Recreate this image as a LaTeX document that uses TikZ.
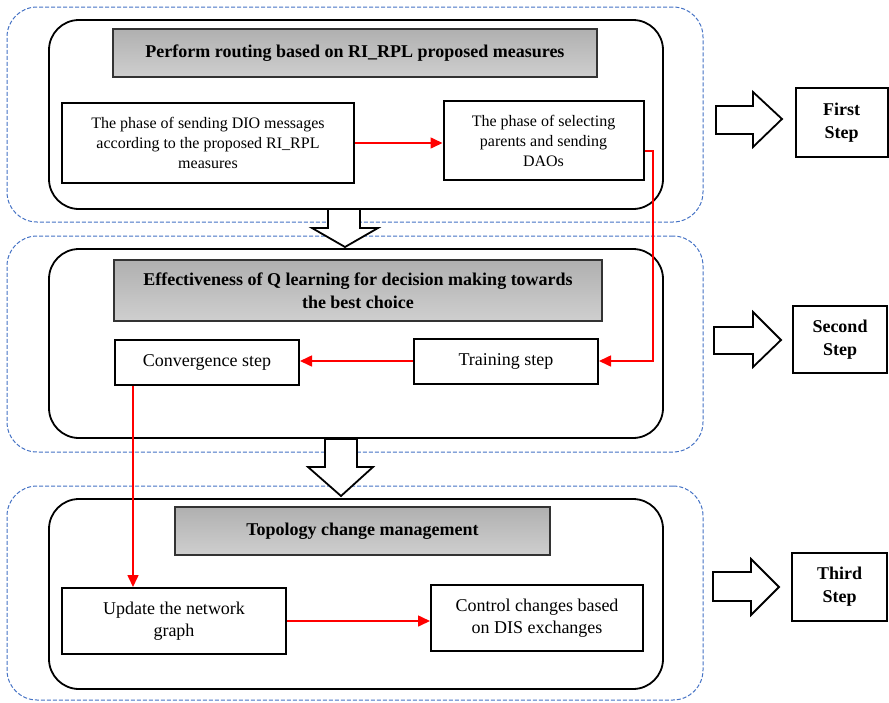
\documentclass[tikz,border=0pt]{standalone}
\usepackage{fontspec}
\setmainfont{Liberation Serif}
\usetikzlibrary{arrows.meta}
\definecolor{dashblue}{RGB}{68,114,196}
\begin{document}
\begin{tikzpicture}[x=1pt,y=-1pt,
  outerbox/.style={draw=dashblue, line width=1pt, dash pattern=on 4pt off 2pt, rounded corners=30pt, inner sep=0pt},
  innerbox/.style={draw=black, line width=1.8pt, rounded corners=30pt, inner sep=0pt, fill=white},
  hdr/.style={draw=black!80, line width=1.2pt, top color=black!31, bottom color=black!19, inner sep=0pt, align=center, font=\fontsize{18}{23}\selectfont\bfseries},
  txtbox/.style={draw=black, line width=2pt, fill=white, inner sep=0pt, align=center, font=\fontsize{18}{22}\selectfont},
  smallbox/.style={txtbox, font=\fontsize{16}{20}\selectfont},
  stepbox/.style={draw=black, line width=2pt, fill=white, inner sep=0pt, align=center, font=\fontsize{18}{23}\selectfont\bfseries},
  redarrow/.style={draw=red, line width=1.6pt, -{Triangle[length=12pt,width=11pt]}},
  blockarrow/.style={draw=black, line width=1.8pt, fill=white, line join=miter}
]
\useasboundingbox (0,0) rectangle (889,702);

% outer dashed frames
\node[outerbox, minimum width=696pt, minimum height=215pt] (o1) at (355,114.5) {};
\node[outerbox, minimum width=696pt, minimum height=216pt] (o2) at (355,344) {};
\node[outerbox, minimum width=696pt, minimum height=214pt] (o3) at (355,593) {};

% inner rounded frames
\node[innerbox, minimum width=614pt, minimum height=189pt] (i1) at (356,114.5) {};
\node[innerbox, minimum width=614pt, minimum height=189pt] (i2) at (356,343.5) {};
\node[innerbox, minimum width=614pt, minimum height=190pt] (i3) at (356,594) {};

% down block arrows
\draw[blockarrow] (328,209) -- (360,209) -- (360,228) -- (378,228) -- (345,247) -- (312,228) -- (328,228) -- cycle;
\draw[blockarrow] (325,439) -- (357,439) -- (357,467) -- (373,467) -- (341,496) -- (308,467) -- (325,467) -- cycle;

% headers
\node[hdr, minimum width=484pt, minimum height=48pt] (h1) at (355,53) {Perform routing based on RI\_RPL proposed measures};
\node[hdr, minimum width=488pt, minimum height=61pt] (h2) at (358,290.5) {Effectiveness of Q learning for decision making towards\\the best choice};
\node[hdr, minimum width=375pt, minimum height=48pt] (h3) at (362.5,531) {Topology change management};

% process boxes
\node[smallbox, minimum width=292pt, minimum height=80pt] (dio) at (208,143) {The phase of sending DIO messages\\according to the proposed RI\_RPL\\measures};
\node[smallbox, minimum width=200pt, minimum height=79pt] (par) at (543.5,140.5) {The phase of selecting\\parents and sending\\DAOs};
\node[txtbox, minimum width=184pt, minimum height=45pt] (conv) at (207,362.5) {Convergence step};
\node[txtbox, minimum width=184pt, minimum height=45pt] (train) at (506,361) {Training step};
\node[txtbox, minimum width=224pt, minimum height=66pt] (upd) at (174,621) {Update the network\\graph};
\node[txtbox, minimum width=212pt, minimum height=66pt] (ctrl) at (537,618) {Control changes based\\on DIS exchanges};

% step labels
\node[stepbox, minimum width=92pt, minimum height=69pt] (s1) at (841.5,122.5) {First\\Step};
\node[stepbox, minimum width=94pt, minimum height=67pt] (s2) at (840,339.5) {Second\\Step};
\node[stepbox, minimum width=95pt, minimum height=68pt] (s3) at (839.5,586.5) {Third\\Step};

% right block arrows
\draw[blockarrow] (716,106) -- (753,106) -- (753,92) -- (782,119) -- (753,147) -- (753,134) -- (716,134) -- cycle;
\draw[blockarrow] (714,327) -- (753,327) -- (753,312) -- (781,340) -- (753,367) -- (753,354) -- (714,354) -- cycle;
\draw[blockarrow] (713,572) -- (751,572) -- (751,559) -- (779,587) -- (751,615) -- (751,601) -- (713,601) -- cycle;

% red connectors
\draw[redarrow] (dio.east) -- (dio.east -| par.west);
\draw[redarrow] ([yshift=-10.5pt]par.east) -- ++(8.5,0) |- (train.east);
\draw[redarrow] (train.west) -- (train.west -| conv.east);
\draw[redarrow] ([xshift=-74pt]conv.south) -- ([xshift=-41pt]upd.north);
\draw[redarrow] (upd.east) -- (upd.east -| ctrl.west);
\end{tikzpicture}
\end{document}
